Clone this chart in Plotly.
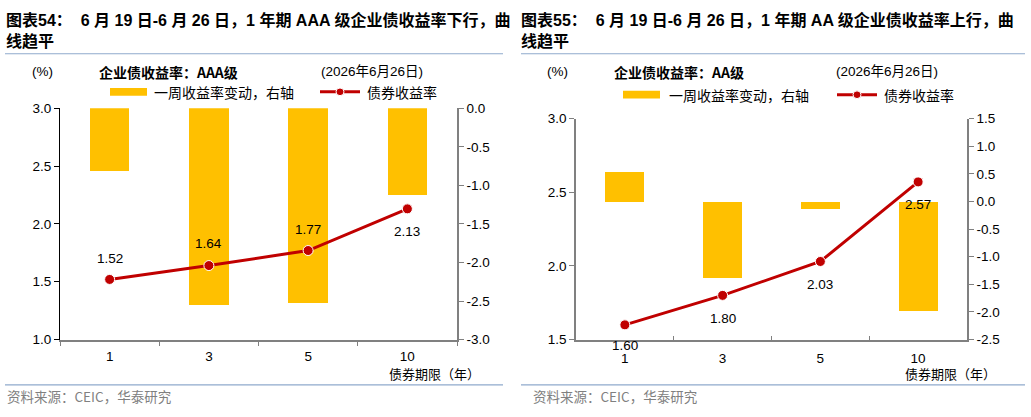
import plotly.graph_objects as go

W, H = 1031, 417

# ---------------- data ----------------
categories = ["1", "3", "5", "10"]
aaa_yield = [1.52, 1.64, 1.77, 2.13]
aaa_change = [-0.82, -2.55, -2.53, -1.13]
aa_yield = [1.60, 1.80, 2.03, 2.57]
aa_change = [0.55, -1.38, -0.13, -1.98]

left_ticks = [1.0, 1.5, 2.0, 2.5, 3.0]
left_right_ticks = [-3.0, -2.5, -2.0, -1.5, -1.0, -0.5, 0.0]
right_ticks = [1.5, 2.0, 2.5, 3.0]
right_right_ticks = [-2.5, -2.0, -1.5, -1.0, -0.5, 0.0, 0.5, 1.0, 1.5]

title_left = "图表54：  6 月 19 日-6 月 26 日，1 年期 AAA 级企业债收益率下行，曲<br>线趋平"
title_right = "图表55：  6 月 19 日-6 月 26 日，1 年期 AA 级企业债收益率上行，曲<br>线趋平"

GOLD = "#FFC000"
RED = "#C00000"
GRAY = "#808080"
BLUE = "#8FAACC"
FONT = "Liberation Sans, Arial, Noto Sans CJK SC"
CJK = "Noto Sans CJK SC, Liberation Sans"


def px(x):
    return x / W


def py(y):
    return 1 - y / H


fig = go.Figure()

# Left panel: bars on y (right side), line on y2 (left side, overlay -> drawn on top)
fig.add_trace(go.Bar(x=categories, y=aaa_change, marker=dict(color=GOLD, line=dict(width=0)),
                     width=0.4, xaxis="x", yaxis="y", showlegend=False, hoverinfo="skip"))
fig.add_trace(go.Scatter(x=categories, y=aaa_yield, mode="lines+markers",
                         line=dict(color=RED, width=3),
                         marker=dict(color=RED, size=10, line=dict(color="white", width=1)),
                         xaxis="x", yaxis="y2", showlegend=False))
# Right panel
fig.add_trace(go.Bar(x=categories, y=aa_change, marker=dict(color=GOLD, line=dict(width=0)),
                     width=0.4, xaxis="x2", yaxis="y3", showlegend=False, hoverinfo="skip"))
fig.add_trace(go.Scatter(x=categories, y=aa_yield, mode="lines+markers",
                         line=dict(color=RED, width=3),
                         marker=dict(color=RED, size=10, line=dict(color="white", width=1)),
                         xaxis="x2", yaxis="y4", showlegend=False))

tickfont = dict(family=FONT, size=13.5, color="black")

fig.update_layout(
    width=W, height=H,
    margin=dict(l=0, r=0, t=0, b=0),
    paper_bgcolor="white", plot_bgcolor="white",
    bargap=0,
    xaxis=dict(domain=[px(60), px(457)], type="category", range=[-0.5, 3.5],
               showline=True, linecolor=GRAY, linewidth=2, ticks="outside", ticklen=4,
               tickcolor=GRAY, tickson="boundaries", tickfont=tickfont, anchor="y",
               ticklabelstandoff=3, showgrid=False, zeroline=False),
    yaxis=dict(domain=[py(345), py(105)], range=[-3, 0], side="right", anchor="x",
               tickvals=left_right_ticks, ticktext=[f"{v:.1f}" for v in left_right_ticks],
               showline=True, linecolor=GRAY, linewidth=1.5, ticks="outside", ticklen=5,
               tickcolor=GRAY, tickfont=tickfont, showgrid=False, zeroline=False),
    yaxis2=dict(range=[1.0, 3.0], overlaying="y", side="left", anchor="x",
                tickvals=left_ticks, ticktext=[f"{v:.1f}" for v in left_ticks],
                showline=True, linecolor="black", linewidth=1, ticks="outside", ticklen=5,
                tickcolor="black", tickfont=tickfont, showgrid=False, zeroline=False),
    xaxis2=dict(domain=[px(576), px(967)], type="category", range=[-0.5, 3.5],
                showline=True, linecolor=GRAY, linewidth=2, ticks="inside", ticklen=4,
                tickcolor=GRAY, tickson="boundaries", tickfont=tickfont, anchor="y3",
                ticklabelstandoff=5, showgrid=False, zeroline=False),
    yaxis3=dict(domain=[py(345), py(115.7)], range=[-2.5, 1.5], side="right", anchor="x2",
                tickvals=right_right_ticks, ticktext=[f"{v:.1f}" for v in right_right_ticks],
                showline=True, linecolor=GRAY, linewidth=1.5, ticks="outside", ticklen=5,
                tickcolor=GRAY, tickfont=tickfont, showgrid=False, zeroline=False),
    yaxis4=dict(range=[1.5, 3.0], overlaying="y3", side="left", anchor="x2",
                tickvals=right_ticks, ticktext=[f"{v:.1f}" for v in right_ticks],
                showline=True, linecolor=GRAY, linewidth=1.5, ticks="outside", ticklen=5,
                tickcolor=GRAY, tickfont=tickfont, showgrid=False, zeroline=False),
)

annotations = []
shapes = []

# data labels (x given as category index)
left_shift = [21, 22, 21, -23]
for i, (v, s) in enumerate(zip(aaa_yield, left_shift)):
    annotations.append(dict(x=i, y=v, xref="x", yref="y2", text=f"{v:.2f}", showarrow=False,
                            yshift=s, font=dict(family=FONT, size=13.5, color="black")))
right_shift = [-21, -23, -23, -23]
for i, (v, s) in enumerate(zip(aa_yield, right_shift)):
    annotations.append(dict(x=i, y=v, xref="x2", yref="y4", text=f"{v:.2f}", showarrow=False,
                            yshift=s, font=dict(family=FONT, size=13.5, color="black")))


def txt(x, y, text, size=13, color="black", xanchor="left", family=CJK):
    annotations.append(dict(x=px(x), y=py(y), xref="paper", yref="paper", text=text,
                            showarrow=False, xanchor=xanchor, yanchor="middle",
                            font=dict(family=family, size=size, color=color)))


# titles
annotations.append(dict(x=px(4), y=py(2), xref="paper", yref="paper", text=f"<b>{title_left}</b>",
                        showarrow=False, xanchor="left", yanchor="top", align="left",
                        font=dict(family=FONT, size=16, color="black")))
annotations.append(dict(x=px(519), y=py(2), xref="paper", yref="paper", text=f"<b>{title_right}</b>",
                        showarrow=False, xanchor="left", yanchor="top", align="left",
                        font=dict(family=FONT, size=16, color="black")))

for x0, x1 in [(5, 503), (521, 1025)]:
    shapes.append(dict(type="line", xref="paper", yref="paper", x0=px(x0), x1=px(x1),
                       y0=py(48.5), y1=py(48.5), line=dict(color=BLUE, width=1.2)))
    shapes.append(dict(type="line", xref="paper", yref="paper", x0=px(x0), x1=px(x1),
                       y0=py(392), y1=py(392), line=dict(color=BLUE, width=1.2)))

# header rows
txt(42, 67, "(%)", size=13.5, family=FONT, xanchor="center")
txt(97, 67, "<b>企业债收益率：AAA级</b>", size=14)
txt(319, 67, "(2026年6月26日)", size=13.5, family=FONT)
txt(557, 67, "(%)", size=13.5, family=FONT, xanchor="center")
txt(612, 67, "<b>企业债收益率：AA级</b>", size=14)
txt(834, 67, "(2026年6月26日)", size=13.5, family=FONT)

# legends
for (bx0, by, tx, lx0, rx) in [(110, 88, 152, 320, 365), (623, 91, 667, 837, 882)]:
    shapes.append(dict(type="rect", xref="paper", yref="paper", x0=px(bx0), x1=px(bx0 + 37),
                       y0=py(by + 4), y1=py(by - 4), fillcolor=GOLD, line=dict(width=0)))
    txt(tx, by, "一周收益率变动，右轴", size=14)
    shapes.append(dict(type="line", xref="paper", yref="paper", x0=px(lx0), x1=px(lx0 + 40),
                       y0=py(by), y1=py(by), line=dict(color=RED, width=3)))
    shapes.append(dict(type="circle", xref="paper", yref="paper", x0=px(lx0 + 16), x1=px(lx0 + 24),
                       y0=py(by + 4), y1=py(by - 4), fillcolor=RED, line=dict(color="white", width=1)))
    txt(rx, by, "债券收益率", size=14)

# x-axis titles
txt(434, 380, "债券期限（年）", size=13, xanchor="center")
txt(950, 380, "债券期限（年）", size=13, xanchor="center")

# sources
txt(5, 404, "资料来源：CEIC，华泰研究", size=13.5, color=GRAY)
txt(531, 404, "资料来源：CEIC，华泰研究", size=13.5, color=GRAY)

fig.update_layout(annotations=annotations, shapes=shapes)

fig.write_html("out.html")
